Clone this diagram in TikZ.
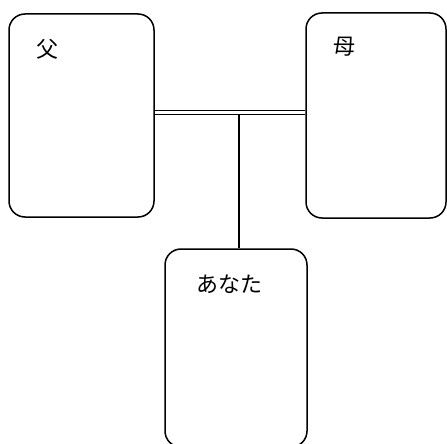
\documentclass[tikz,border=0pt]{standalone}
\usepackage{fontspec}
\newfontfamily\cjk{Noto Sans CJK JP}
\begin{document}
\begin{tikzpicture}[x=1pt,y=-1pt,
  person/.style={draw, line width=1.5pt, rounded corners=16pt, rectangle, inner sep=0pt},
  lbl/.style={font=\cjk\fontsize{22}{24}\selectfont, inner sep=0pt, anchor=center},
  link/.style={line width=1.4pt}]
\useasboundingbox (0,0) rectangle (447,444);
\node[person, minimum width=145pt, minimum height=203pt] (f) at (81.5,115.5) {};
\node[person, minimum width=140pt, minimum height=205pt] (m) at (376,115.5) {};
\node[person, minimum width=142pt, minimum height=198pt] (k) at (236,348) {};
\node[lbl] (fl) at (47,49) {父};
\node[lbl] (ml) at (344,47) {母};
\node[lbl] (kl) at (229,284) {あなた};
\coordinate (j) at (239,114.3);
\draw[link] ([yshift=3.6pt]f.east |- j) -- ([yshift=3.6pt]m.west |- j);
\draw[link] (f.east |- j) -- (m.west |- j);
\draw[link] (j) -- (j |- k.north);
\end{tikzpicture}
\end{document}
